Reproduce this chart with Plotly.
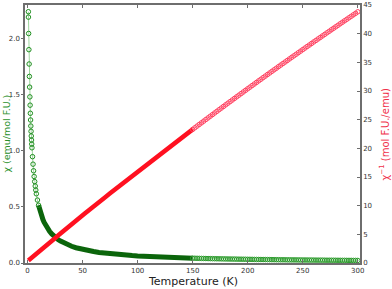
import plotly.graph_objects as go

# ---- data ----
# low-T region (sparse, steep)
t_low = [0.75, 0.82, 1.0, 1.22, 1.45, 1.68, 1.9, 2.12, 2.34, 2.56, 2.78, 3.0, 3.2, 3.4, 3.6, 3.8, 4.0,
         4.5, 5.0, 5.5, 6.0, 6.5, 7.0, 7.5, 8.0, 9.0, 10.0]
chi_low = [2.240, 2.192, 2.046, 1.902, 1.774, 1.663, 1.568, 1.481, 1.407, 1.335, 1.275, 1.221, 1.174, 1.132,
           1.096, 1.060, 1.027, 0.948, 0.881, 0.822, 0.771, 0.726, 0.686, 0.650, 0.617, 0.561, 0.515]
inv_low = [0.446, 0.456, 0.489, 0.526, 0.564, 0.601, 0.638, 0.675, 0.711, 0.749, 0.784, 0.819, 0.852, 0.883,
           0.912, 0.943, 0.974, 1.055, 1.135, 1.217, 1.297, 1.377, 1.458, 1.538, 1.621, 1.783, 1.942]

# dense region (10 - 150 K)
t_mid = [10, 11, 12, 13, 14, 15, 16, 18, 20, 22, 24, 26, 28, 30, 33, 36, 40, 44, 48, 52, 56, 60, 65, 70,
         75, 80, 85, 90, 95, 100, 105, 110, 115, 120, 125, 130, 135, 140, 145, 150]
chi_mid = [0.515, 0.475, 0.442, 0.412, 0.387, 0.364, 0.344, 0.310, 0.282, 0.259, 0.239, 0.222, 0.207, 0.195,
           0.178, 0.164, 0.149, 0.136, 0.125, 0.116, 0.108, 0.102, 0.0942, 0.0879, 0.0823, 0.0775, 0.0731,
           0.0693, 0.0659, 0.0628, 0.0599, 0.0574, 0.0550, 0.0529, 0.0509, 0.0490, 0.0474, 0.0458, 0.0443,
           0.0429]
inv_mid = [1.942, 2.105, 2.262, 2.427, 2.584, 2.747, 2.907, 3.226, 3.546, 3.861, 4.184, 4.505, 4.831, 5.128,
           5.618, 6.098, 6.711, 7.353, 8.000, 8.621, 9.259, 9.804, 10.62, 11.38, 12.15, 12.90, 13.68, 14.43,
           15.17, 15.92, 16.69, 17.42, 18.18, 18.90, 19.65, 20.41, 21.10, 21.83, 22.57, 23.31]

# high-T region (150 - 300 K, 2 K steps)
t_high = [150, 152, 154, 156, 158, 160, 162, 164, 166, 168, 170, 172, 174, 176, 178, 180, 182, 184, 186, 188,
          190, 192, 194, 196, 198, 200, 202, 204, 206, 208, 210, 212, 214, 216, 218, 220, 222, 224, 226, 228,
          230, 232, 234, 236, 238, 240, 242, 244, 246, 248, 250, 252, 254, 256, 258, 260, 262, 264, 266, 268,
          270, 272, 274, 276, 278, 280, 282, 284, 286, 288, 290, 292, 294, 296, 298, 300]
chi_high = [0.04292, 0.04239, 0.04188, 0.04138, 0.04090, 0.04042, 0.03996, 0.03951, 0.03907, 0.03863,
            0.03821, 0.03780, 0.03740, 0.03701, 0.03663, 0.03625, 0.03588, 0.03552, 0.03517, 0.03483,
            0.03449, 0.03416, 0.03384, 0.03352, 0.03321, 0.03291, 0.03261, 0.03232, 0.03203, 0.03175,
            0.03147, 0.03120, 0.03093, 0.03067, 0.03042, 0.03016, 0.02992, 0.02967, 0.02943, 0.02920,
            0.02897, 0.02874, 0.02852, 0.02830, 0.02809, 0.02787, 0.02767, 0.02746, 0.02726, 0.02706,
            0.02687, 0.02667, 0.02649, 0.02630, 0.02612, 0.02594, 0.02576, 0.02558, 0.02541, 0.02524,
            0.02507, 0.02491, 0.02475, 0.02459, 0.02443, 0.02427, 0.02412, 0.02397, 0.02382, 0.02367,
            0.02352, 0.02338, 0.02324, 0.02310, 0.02296, 0.02283]
inv_high = [23.30, 23.59, 23.88, 24.17, 24.45, 24.74, 25.03, 25.31, 25.60, 25.88, 26.17, 26.45, 26.74, 27.02,
            27.30, 27.59, 27.87, 28.15, 28.43, 28.71, 28.99, 29.27, 29.55, 29.83, 30.11, 30.39, 30.67, 30.95,
            31.22, 31.50, 31.78, 32.05, 32.33, 32.60, 32.88, 33.15, 33.43, 33.70, 33.97, 34.25, 34.52, 34.79,
            35.06, 35.33, 35.60, 35.88, 36.14, 36.41, 36.68, 36.95, 37.22, 37.49, 37.76, 38.02, 38.29, 38.56,
            38.82, 39.09, 39.35, 39.62, 39.88, 40.15, 40.41, 40.68, 40.94, 41.20, 41.46, 41.73, 41.99, 42.25,
            42.51, 42.77, 43.03, 43.29, 43.55, 43.81]

x_ticks = [0, 50, 100, 150, 200, 250, 300]
chi_ticks = [0.0, 0.5, 1.0, 1.5, 2.0]
chi_tick_text = ["0.0", "0.5", "1.0", "1.5", "2.0"]
inv_ticks = [0, 5, 10, 15, 20, 25, 30, 35, 40, 45]

GREEN_DARK = "#0b650b"
RED = "#ff1020"
RED_LIGHT = "#ff4060"
FONT = "DejaVu Sans"

fig = go.Figure()

def mk(color, size=5):
    return dict(symbol="circle-open", size=size, color=color, line=dict(width=1, color=color))

# chi (left axis)
fig.add_trace(go.Scatter(x=t_mid, y=chi_mid, mode="lines", line=dict(color=GREEN_DARK, width=5),
                         yaxis="y", showlegend=False, hoverinfo="skip"))
fig.add_trace(go.Scatter(x=t_low, y=chi_low, mode="lines+markers", line=dict(color="rgba(40,160,40,0.45)", width=1),
                         marker=mk("#1f8f1f", 4.5), yaxis="y", showlegend=False))
fig.add_trace(go.Scatter(x=t_high, y=chi_high, mode="lines+markers", line=dict(color="rgba(40,160,40,0.45)", width=1),
                         marker=mk("#2a9a2a", 4.5), yaxis="y", showlegend=False))

# chi^-1 (right axis)
fig.add_trace(go.Scatter(x=t_low + t_mid, y=inv_low + inv_mid, mode="lines", line=dict(color=RED, width=4.5),
                         yaxis="y2", showlegend=False))
fig.add_trace(go.Scatter(x=t_high, y=inv_high, mode="lines+markers", line=dict(color="rgba(255,60,90,0.45)", width=1),
                         marker=mk(RED_LIGHT, 4.5), yaxis="y2", showlegend=False))

axis_line = dict(showline=True, linecolor="#6e6e6e", linewidth=1.5, showgrid=False, zeroline=False,
                 tickfont=dict(family=FONT, size=7, color="#333333"), tickwidth=1,
                 tickcolor="#6e6e6e", automargin=False)

fig.update_layout(
    width=392, height=289,
    margin=dict(l=25, r=32, t=5, b=26),
    paper_bgcolor="white", plot_bgcolor="white",
    font=dict(family=FONT),
    xaxis=dict(range=[-2.3, 302], tickvals=x_ticks, ticks="inside", ticklen=3, mirror="ticks", **axis_line),
    yaxis=dict(range=[0, 2.3], tickvals=chi_ticks, ticktext=chi_tick_text, ticks="outside", ticklen=2,
               **axis_line),
    yaxis2=dict(range=[0, 45], tickvals=inv_ticks, ticks="inside", ticklen=3, overlaying="y", side="right",
                **axis_line),
    annotations=[
        dict(text="Temperature (K)", xref="paper", yref="paper", x=0.5, y=-0.07, xanchor="center",
             yanchor="middle", showarrow=False, font=dict(family=FONT, size=11, color="#222222")),
        dict(text="χ (emu/mol F.U.)", xref="paper", yref="paper", x=-0.058, y=0.5, xanchor="center",
             yanchor="middle", textangle=-90, showarrow=False, font=dict(family=FONT, size=9.5, color="#2a8f2a")),
        dict(text="χ<sup>−1</sup> (mol F.U./emu)", xref="paper", yref="paper", x=1.073, y=0.5,
             xanchor="center", yanchor="middle", textangle=-90, showarrow=False,
             font=dict(family=FONT, size=10, color="#f0304a")),
    ],
)

fig.write_html("out.html", config={"displayModeBar": False},
               post_script="document.body.style.margin='0';document.body.style.overflow='hidden';")
